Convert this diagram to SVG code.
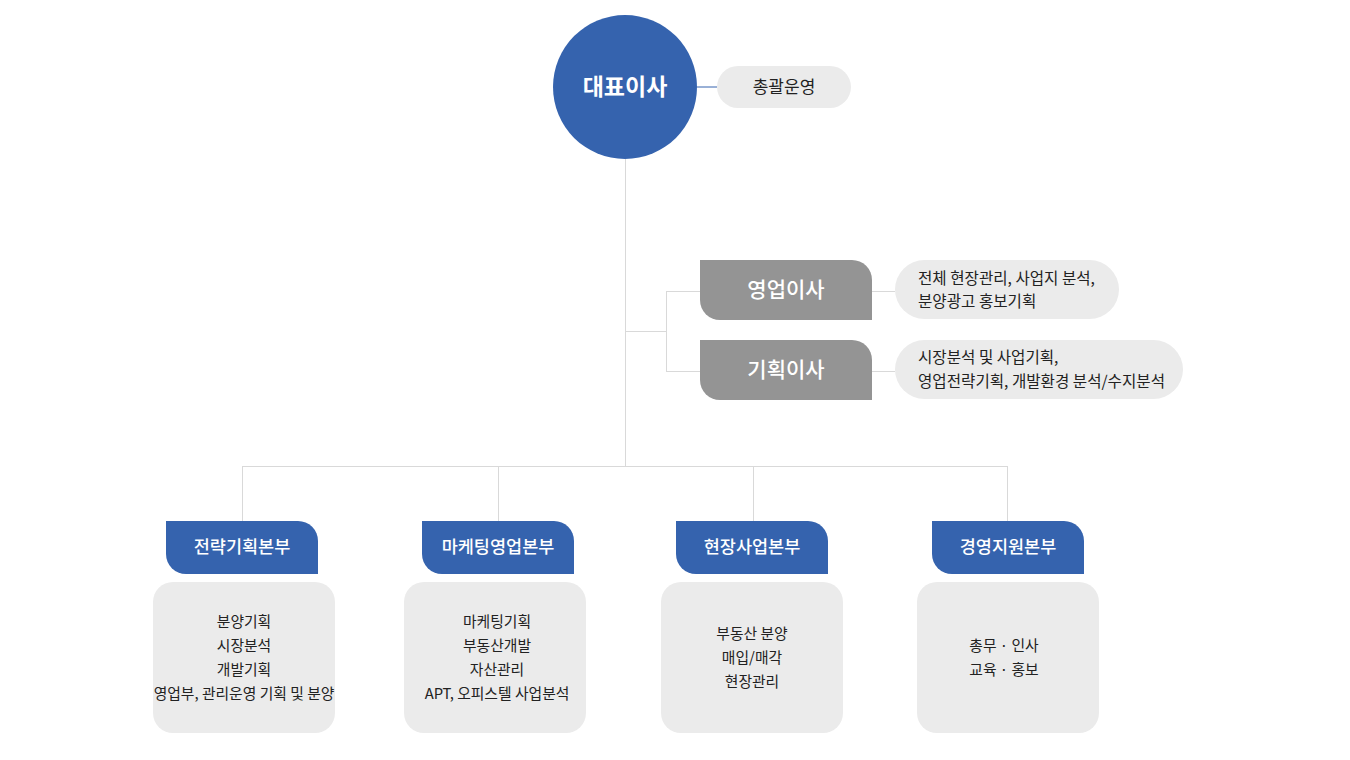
<svg xmlns="http://www.w3.org/2000/svg" width="1350" height="760" viewBox="0 0 1350 760">
<style>
text{font-family:"Noto Sans CJK KR","Noto Sans",sans-serif;}
.ln{stroke:#d9d9d9;stroke-width:1;fill:none;}
.blue{fill:#3563ae;}
.dir{fill:#949494;}
.pill{fill:#ebebeb;}
.wt{fill:#ffffff;text-anchor:middle;font-weight:500;}
.dk{fill:#222222;font-size:14.8px;}
.pt{fill:#222222;font-size:15.6px;}
.ct{text-anchor:middle;}
</style>
<rect width="1350" height="760" fill="#ffffff"/>
<g id="connectors">
<line x1="697" y1="87" x2="717" y2="87" stroke="#3563ae" stroke-width="1"/>
<path class="ln" d="M625.5 159 V466.5"/>
<path class="ln" d="M625 331.5 H666.5 M666.5 291 V371.5 M666 291.5 H700 M666 371.5 H700"/>
<path class="ln" d="M872 291.5 H895 M872 371.5 H895"/>
<path class="ln" d="M242.5 466.5 H1007.5 M242.5 466 V521 M498.5 466 V521 M753.5 466 V521 M1007.5 466 V521"/>
</g>
<g id="ceo">
<circle cx="625" cy="87" r="72" class="blue"/>
<text x="625" y="95" class="wt" style="font-size:23px;font-weight:bold">대표이사</text>
</g>
<g id="ceo-role">
<rect x="717" y="66" width="134" height="42" rx="21" class="pill"/>
<text x="784" y="93" class="pt ct" style="font-size:17px">총괄운영</text>
</g>
<g id="sales-director">
<path class="dir" d="M700 260 H852 A20 20 0 0 1 872 280 V320 H720 A20 20 0 0 1 700 300 Z"/>
<text x="786" y="297" class="wt" style="font-size:21px">영업이사</text>
</g>
<g id="sales-role">
<rect x="895" y="260" width="224" height="59" rx="29.5" class="pill"/>
<text x="918" y="284" class="pt">전체 현장관리, 사업지 분석,</text>
<text x="918" y="307" class="pt">분양광고 홍보기획</text>
</g>
<g id="plan-director">
<path class="dir" d="M700 340 H852 A20 20 0 0 1 872 360 V400 H720 A20 20 0 0 1 700 380 Z"/>
<text x="786" y="377" class="wt" style="font-size:21px">기획이사</text>
</g>
<g id="plan-role">
<rect x="895" y="340" width="288" height="59" rx="29.5" class="pill"/>
<text x="918" y="363" class="pt">시장분석 및 사업기획,</text>
<text x="918" y="387" class="pt">영업전략기획, 개발환경 분석/수지분석</text>
</g>
<g id="div1">
<path class="blue" d="M166 521 H298 A20 20 0 0 1 318 541 V574 H186 A20 20 0 0 1 166 554 Z"/>
<text x="242" y="553" class="wt" style="font-size:17.5px">전략기획본부</text>
<rect x="153" y="582" width="182" height="151" rx="20" class="pill"/>
<text x="244" y="627" class="dk ct">분양기획</text>
<text x="244" y="651" class="dk ct">시장분석</text>
<text x="244" y="675" class="dk ct">개발기획</text>
<text x="244" y="699" class="dk ct">영업부, 관리운영 기획 및 분양</text>
</g>
<g id="div2">
<path class="blue" d="M422 521 H554 A20 20 0 0 1 574 541 V574 H442 A20 20 0 0 1 422 554 Z"/>
<text x="498" y="553" class="wt" style="font-size:17.5px">마케팅영업본부</text>
<rect x="404" y="582" width="182" height="151" rx="20" class="pill"/>
<text x="497" y="627" class="dk ct">마케팅기획</text>
<text x="497" y="651" class="dk ct">부동산개발</text>
<text x="497" y="675" class="dk ct">자산관리</text>
<text x="497" y="699" class="dk ct">APT, 오피스텔 사업분석</text>
</g>
<g id="div3">
<path class="blue" d="M676 521 H808 A20 20 0 0 1 828 541 V574 H696 A20 20 0 0 1 676 554 Z"/>
<text x="752" y="553" class="wt" style="font-size:17.5px">현장사업본부</text>
<rect x="661" y="582" width="182" height="151" rx="20" class="pill"/>
<text x="752" y="639" class="dk ct">부동산 분양</text>
<text x="752" y="663" class="dk ct">매입/매각</text>
<text x="752" y="687" class="dk ct">현장관리</text>
</g>
<g id="div4">
<path class="blue" d="M932 521 H1064 A20 20 0 0 1 1084 541 V574 H952 A20 20 0 0 1 932 554 Z"/>
<text x="1008" y="553" class="wt" style="font-size:17.5px">경영지원본부</text>
<rect x="917" y="582" width="182" height="151" rx="20" class="pill"/>
<text x="1004" y="651" class="dk ct">총무 · 인사</text>
<text x="1004" y="675" class="dk ct">교육 · 홍보</text>
</g>
</svg>
